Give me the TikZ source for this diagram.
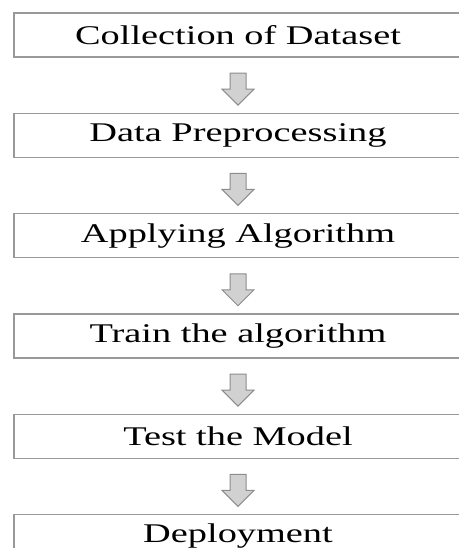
\documentclass[tikz,border=0pt]{standalone}
\usepackage{graphicx}
\usepackage{fontspec}
\setmainfont{Liberation Serif}
\usetikzlibrary{positioning,shapes.arrows}

\newcommand{\wide}[1]{\scalebox{1.42}[1]{#1}}

\begin{document}
\begin{tikzpicture}[x=1pt, y=-1pt, node distance={55pt},
    box/.style = {draw=black!40, line width=1.3pt, minimum width=448pt, minimum height=44pt, inner sep=0pt, font=\fontsize{27}{30}\selectfont, text=black},
    downarr/.style = {single arrow, shape border rotate=270, draw=black!45, fill=black!18, line width=1pt, minimum height=32pt, single arrow head extend=8pt, single arrow head indent=0pt, inner sep=7.5pt}]
        \useasboundingbox (0,0) rectangle (458,548);
        \node[box] (1) at (238,35) {\wide{Collection of Dataset}};
        \node[box] (2) [below=of 1] {\wide{Data Preprocessing}};
        \node[box] (3) [below=of 2] {\wide{Applying Algorithm}};
        \node[box] (4) [below=of 3] {\wide{Train the algorithm}};
        \node[box] (5) [below=of 4] {\wide{Test the Model}};
        \node[box] (6) [below=of 5] {\wide{Deployment}};

        \path (1) -- node[downarr] {} (2);
        \path (2) -- node[downarr] {} (3);
        \path (3) -- node[downarr] {} (4);
        \path (4) -- node[downarr] {} (5);
        \path (5) -- node[downarr] {} (6);

    \end{tikzpicture}
\end{document}
